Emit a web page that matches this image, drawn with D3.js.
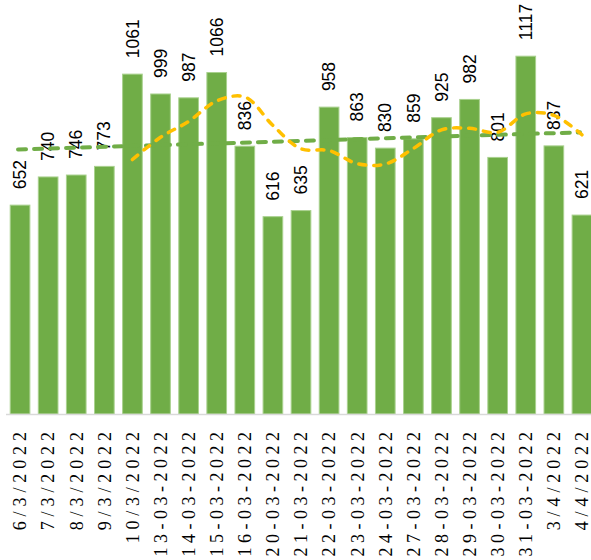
<!DOCTYPE html>
<html>
<head>
<meta charset="utf-8">
<script src="https://cdn.jsdelivr.net/npm/d3@7"></script>
<style>
  html, body { margin: 0; padding: 0; background: #fff; }
  svg { display: block; }
</style>
</head>
<body>
<svg width="591" height="560"></svg>
<script>
const dates = [
    "6/3/2022", "7/3/2022", "8/3/2022", "9/3/2022", "10/3/2022",
    "13-03-2022", "14-03-2022", "15-03-2022", "16-03-2022", "20-03-2022",
    "21-03-2022", "22-03-2022", "23-03-2022", "24-03-2022", "27-03-2022",
    "28-03-2022", "29-03-2022", "30-03-2022", "31-03-2022", "3/4/2022", "4/4/2022"
];
const counts = [652, 740, 746, 773, 1061, 999, 987, 1066, 836, 616, 635,
    958, 863, 830, 859, 925, 982, 801, 1117, 837, 621];

// 5-period moving average, starts at the 5th date
const movingAvg = [794.4, 863.8, 913.2, 977.2, 989.8, 900.8, 828, 822.2, 781.6,
    780.4, 829, 887, 891.8, 879.4, 936.8, 932.4, 871.6];
// linear trend, value at first and last date
const trendEnds = [825.8, 879.3];

const svg = d3.select("svg");

const x = d3.scaleBand()
    .domain(dates)
    .range([6, 596])
    .paddingInner(0.3)
    .paddingOuter(0.15);

const y = d3.scaleLinear()
    .domain([0, 1200])
    .range([414, 29.6]);

const cx = d => x(d) + x.bandwidth() / 2;

// bars
svg.append("g")
    .selectAll("rect")
    .data(counts)
    .join("rect")
    .attr("x", (d, i) => x(dates[i]))
    .attr("y", d => y(d))
    .attr("width", x.bandwidth())
    .attr("height", d => y(0) - y(d))
    .attr("fill", "#70AD47")
    .attr("stroke", "#A9D18E")
    .attr("stroke-width", 1);

// axis line
svg.append("line")
    .attr("x1", 6).attr("x2", 591)
    .attr("y1", y(0) + 0.5).attr("y2", y(0) + 0.5)
    .attr("stroke", "#D9D9D9")
    .attr("stroke-width", 1.5);

// category labels (serif, spaced out like the original)
const catLabels = svg.append("g")
    .selectAll("text")
    .data(dates)
    .join("text")
    .attr("dy", "0.35em")
    .attr("text-anchor", "end")
    .style("font-family", "'Liberation Serif', 'Times New Roman', Times, serif")
    .style("font-size", "18px")
    .attr("fill", "#000")
    .text(d => d);

// about 12.9px per character in the reference
const perChar = 12.9;
catLabels.each(function(d) {
    const t = d3.select(this);
    const natural = this.getComputedTextLength();
    const ls = Math.max(0, (perChar * d.length - natural) / d.length);
    t.style("letter-spacing", ls + "px")
        .attr("transform", `translate(${cx(d)},${432 - ls}) rotate(-90)`);
});

// value labels
svg.append("g")
    .selectAll("text")
    .data(counts)
    .join("text")
    .attr("transform", (d, i) => `translate(${cx(dates[i])},${y(d) - 16}) rotate(-90)`)
    .attr("dy", "0.35em")
    .attr("text-anchor", "start")
    .style("font-family", "'Liberation Sans', Arial, sans-serif")
    .style("font-size", "17.5px")
    .attr("fill", "#000")
    .text(d => d);

// linear trend
svg.append("line")
    .attr("x1", cx(dates[0]) - 2)
    .attr("y1", y(trendEnds[0]))
    .attr("x2", cx(dates[dates.length - 1]) - 2)
    .attr("y2", y(trendEnds[1]))
    .attr("stroke", "#70AD47")
    .attr("stroke-width", 4)
    .attr("stroke-dasharray", "8 8")
    .attr("stroke-linecap", "round");

// moving average
const maLine = d3.line()
    .x((d, i) => cx(dates[i + 4]))
    .y(d => y(d))
    .curve(d3.curveCatmullRom.alpha(0.5));

svg.append("path")
    .attr("d", maLine(movingAvg))
    .attr("fill", "none")
    .attr("stroke", "#FFC000")
    .attr("stroke-width", 3.5)
    .attr("stroke-dasharray", "7 8")
    .attr("stroke-linecap", "round");
</script>
</body>
</html>
